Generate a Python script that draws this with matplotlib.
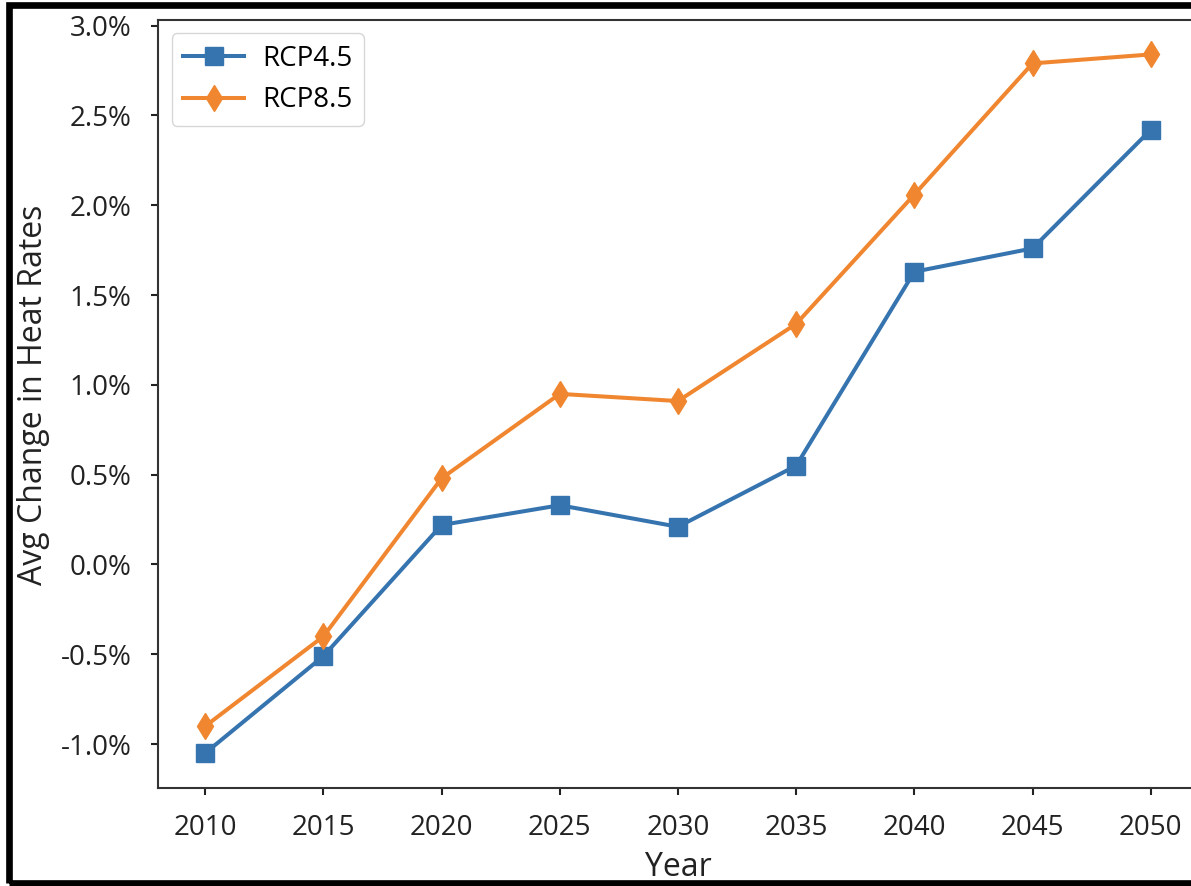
import matplotlib
matplotlib.use("Agg")
import matplotlib.pyplot as plt
from matplotlib.patches import Rectangle
from matplotlib.ticker import FuncFormatter, MultipleLocator

# average change in heat rates (%) by scenario
years = [2010, 2015, 2020, 2025, 2030, 2035, 2040, 2045, 2050]
rcp45 = [-1.05, -0.51, 0.22, 0.33, 0.21, 0.55, 1.63, 1.76, 2.42]
rcp85 = [-0.90, -0.40, 0.48, 0.95, 0.91, 1.34, 2.06, 2.79, 2.84]

blue = '#3674b0'
orange = '#f08730'

plt.rcParams['font.family'] = ['Open Sans', 'DejaVu Sans']
plt.rcParams['font.size'] = 20

fig = plt.figure(figsize=(11.91, 8.86), dpi=100)
W, H = 1191.0, 886.0
# axes run a bit past the right edge of the canvas
ax = fig.add_axes([158 / W, (H - 788) / H, (1198 - 158) / W, (788 - 19.5) / H])

ax.plot(years, rcp45, color=blue, lw=2.9, marker='s', ms=13, label='RCP4.5')
ax.plot(years, rcp85, color=orange, lw=2.9, marker='d', ms=13, label='RCP8.5')

ax.set_xlim(2008, 2052)
ax.set_xticks(years)
ax.yaxis.set_major_locator(MultipleLocator(0.5))
ax.yaxis.set_major_formatter(FuncFormatter(lambda v, p: '%.1f%%' % v))

ax.set_xlabel('Year', fontsize=23, labelpad=6)
ax.set_ylabel('Avg Change in Heat Rates', fontsize=23, labelpad=7.5)
ax.yaxis.label.set_y(0.511)

for s in ax.spines.values():
    s.set_color('#333333')
    s.set_linewidth(1.5)
ax.tick_params(axis='both', length=5, width=1.5, color='#222222', pad=14,
               labelcolor='#222222')
ax.xaxis.label.set_color('#222222')
ax.yaxis.label.set_color('#222222')

ax.legend(loc='upper left', fontsize=20, handlelength=2.2, handletextpad=0.65,
          framealpha=0.8)

# black frame round the figure
fig.add_artist(Rectangle((8.5 / W, 3 / H), 1.2, (883 - 5) / H,
                         transform=fig.transFigure, fill=False,
                         edgecolor='black', lw=4.8))

fig.savefig('out.png', dpi=100)
